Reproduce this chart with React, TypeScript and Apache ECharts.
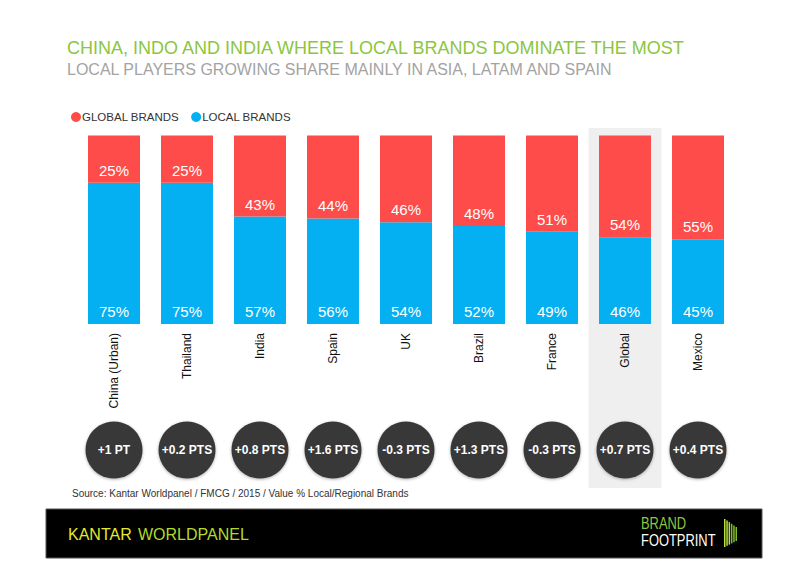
import React, { useEffect, useRef } from "react";
import * as echarts from "echarts";

const categories = ["China (Urban)", "Thailand", "India", "Spain", "UK", "Brazil", "France", "Global", "Mexico"];
const globalBrands = [25, 25, 43, 44, 46, 48, 51, 54, 55];
const localBrands = [75, 75, 57, 56, 54, 52, 49, 46, 45];
const changes = ["+1 PT", "+0.2 PTS", "+0.8 PTS", "+1.6 PTS", "-0.3 PTS", "+1.3 PTS", "-0.3 PTS", "+0.7 PTS", "+0.4 PTS"];
const highlighted = "Global";

const RED = "#fe4c4a";
const BLUE = "#04b0f2";
const FONT = "Liberation Sans, Arial, sans-serif";

export default function App() {
  const ref = useRef<HTMLDivElement>(null);
  useEffect(() => {
    document.body.style.margin = "0";
    const chart = echarts.init(ref.current!, null, { renderer: "svg" });
    const gridLeft = 77.5;
    const gridRight = 65.5;
    const fanPolys: any[] = [];
    for (let i = 0; i < 6; i++) {
      const x0 = 724 + i * 2.3;
      fanPolys.push({
        type: "polygon",
        shape: {
          points: [
            [x0, 519 + i * 1.6],
            [x0 + 1.5, 519 + i * 1.6],
            [x0 + 1.5, 547 - i * 1.2],
            [x0, 547 - i * 1.2],
          ],
        },
        style: { fill: i < 3 ? "#b6e23a" : "#7fbf2a" },
        silent: true,
      });
    }
    const option: any = {
      animation: false,
      backgroundColor: "#ffffff",
      textStyle: { fontFamily: FONT },
      legend: {
        data: ["GLOBAL BRANDS", "LOCAL BRANDS"],
        left: 66,
        top: 106,
        icon: "circle",
        itemWidth: 10,
        itemHeight: 10,
        itemGap: 12,
        textStyle: { fontSize: 11.5, color: "#333", fontFamily: FONT, padding: [0, 0, 0, -4] },
        selectedMode: false,
      },
      grid: [
        { left: gridLeft, right: gridRight, top: 135.5, height: 188.5 },
        { left: gridLeft, right: gridRight, top: 128, height: 360 },
        { left: gridLeft, right: gridRight, top: 421, height: 58 },
      ],
      xAxis: [
        {
          type: "category",
          data: categories,
          gridIndex: 0,
          axisLine: { show: false },
          axisTick: { show: false },
          axisLabel: { rotate: 90, margin: 9, fontSize: 12, color: "#111", fontFamily: FONT },
        },
        { type: "category", data: categories, gridIndex: 1, show: false },
        { type: "category", data: categories, gridIndex: 2, show: false },
      ],
      yAxis: [
        { type: "value", min: 0, max: 100, gridIndex: 0, show: false },
        { type: "value", min: 0, max: 1, gridIndex: 1, show: false },
        { type: "value", min: 0, max: 1, gridIndex: 2, show: false },
      ],
      series: [
        {
          type: "bar",
          name: "highlight",
          xAxisIndex: 1,
          yAxisIndex: 1,
          barWidth: "100%",
          silent: true,
          z: 0,
          itemStyle: { color: "#efefef" },
          data: categories.map((c) => (c === highlighted ? 1 : null)),
        },
        {
          type: "bar",
          name: "LOCAL BRANDS",
          stack: "s",
          barWidth: 52,
          itemStyle: { color: BLUE },
          label: {
            show: true,
            position: "insideBottom",
            distance: 5,
            formatter: "{c}%",
            color: "#fff",
            fontSize: 15,
            fontFamily: FONT,
          },
          data: localBrands,
          z: 2,
        },
        {
          type: "bar",
          name: "GLOBAL BRANDS",
          stack: "s",
          barWidth: 52,
          itemStyle: { color: RED },
          label: {
            show: true,
            position: "insideBottom",
            distance: 5,
            formatter: "{c}%",
            color: "#fff",
            fontSize: 15,
            fontFamily: FONT,
          },
          data: globalBrands,
          z: 2,
        },
        {
          type: "scatter",
          name: "change",
          xAxisIndex: 2,
          yAxisIndex: 2,
          symbol: "circle",
          symbolSize: 57,
          itemStyle: { color: "#393939", opacity: 1, shadowBlur: 3, shadowColor: "rgba(0,0,0,0.3)", shadowOffsetY: 1 },
          label: {
            show: true,
            position: "inside",
            formatter: (p: any) => changes[p.dataIndex],
            color: "#fff",
            fontSize: 12,
            fontWeight: "bold",
            fontFamily: FONT,
          },
          data: categories.map(() => 0.5),
          z: 3,
        },
      ],
      graphic: [
        {
          type: "text",
          left: 67,
          top: 39,
          style: { text: "CHINA, INDO AND INDIA WHERE LOCAL BRANDS DOMINATE THE MOST", fill: "#8cc63e", font: `18px ${FONT}` },
        },
        {
          type: "text",
          left: 67,
          top: 61,
          style: { text: "LOCAL PLAYERS GROWING SHARE MAINLY IN ASIA, LATAM AND SPAIN", fill: "#a3a3a3", font: `16px ${FONT}` },
        },
        {
          type: "text",
          left: 72,
          top: 488,
          style: { text: "Source: Kantar Worldpanel / FMCG / 2015 / Value % Local/Regional Brands", fill: "#333", font: `10px ${FONT}` },
        },
        {
          type: "rect",
          shape: { x: 46, y: 509, width: 716, height: 49 },
          style: { fill: "#000", stroke: "#555", lineWidth: 1 },
          silent: true,
        },
        {
          type: "text",
          left: 68,
          top: 526,
          style: { text: "KANTAR", fill: "#e2ea2c", font: `16px ${FONT}` },
        },
        {
          type: "text",
          left: 138,
          top: 526,
          style: { text: "WORLDPANEL", fill: "#b3d92a", font: `16px ${FONT}` },
        },
        {
          type: "text",
          x: 641,
          y: 514,
          scaleX: 0.76,
          style: { text: "BRAND", fill: "#8cc63e", font: `17px ${FONT}` },
        },
        {
          type: "text",
          x: 641,
          y: 531,
          scaleX: 0.76,
          style: { text: "FOOTPRINT", fill: "#ffffff", font: `17px ${FONT}` },
        },
        ...fanPolys,
      ],
    };
    chart.setOption(option);
    return () => chart.dispose();
  }, []);
  return <div ref={ref} style={{ width: 800, height: 579 }} />;
}
